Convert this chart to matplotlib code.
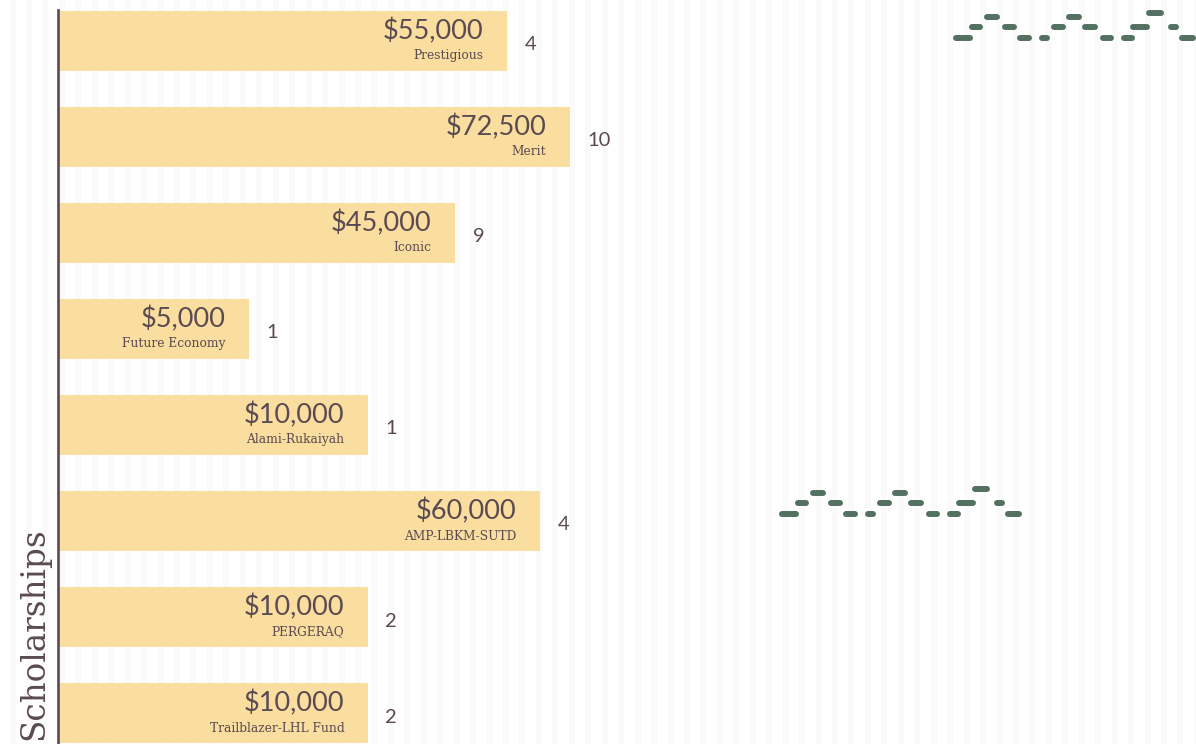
import numpy as np
import matplotlib
matplotlib.use('Agg')
import matplotlib.pyplot as plt

# ---- data ----
names = ['Prestigious', 'Merit', 'Iconic', 'Future Economy', 'Alami-Rukaiyah',
         'AMP-LBKM-SUTD', 'PERGERAQ', 'Trailblazer-LHL Fund']
amounts = [55000, 72500, 45000, 5000, 10000, 60000, 10000, 10000]
counts = [4, 10, 9, 1, 1, 4, 2, 2]
# bar extent as drawn in the original (not proportional to the amount)
bar_len = [449, 512, 397, 191, 310, 482, 310, 310]

# little zig-zag decoration: dash offsets, widths and heights
wave_dx = [0, 13, 29, 47, 62, 82, 96, 111, 127, 144, 165, 177, 192, 211, 225]
wave_w = [20, 14, 16, 15, 15, 11, 15, 16, 16, 14, 14, 20, 18, 11, 17]
wave_h = [0, 11, 21, 11, 0, 0, 11, 21, 11, 0, 0, 11, 25, 11, 0]

BAR = '#f9dea0'
INK = '#5b4a51'
GREEN = '#537061'

W, H = 1196, 744
fig = plt.figure(figsize=(W / 100, H / 100), dpi=100)

# background stripes
bg = fig.add_axes([0, 0, 1, 1], zorder=0)
bg.set_xlim(0, W)
bg.set_ylim(H, 0)
for x0 in np.arange(9.5, W, 16.45):
    bg.axvspan(x0, x0 + 6, color='#fafafa', lw=0)
bg.axis('off')

ax = fig.add_axes([57.5 / W, 0, 1 - 57.5 / W, (H - 10) / H], zorder=1)
ax.patch.set_alpha(0)
ypos = np.arange(len(names))
ax.barh(ypos, bar_len, height=0.625, color=BAR, left=0)
ax.set_xlim(0, W - 57.5)
ax.set_ylim(7.32, -0.32)

px = (H - 10) / 7.64  # pixels per band

for i in ypos:
    ax.text(bar_len[i] - 23, i - 0.1, '${:,}'.format(amounts[i]), ha='right',
            va='center', fontsize=19.5, color=INK, family='Lato')
    ax.text(bar_len[i] - 23, i + 0.155, names[i], ha='right', va='center',
            fontsize=8.8, color=INK, family='DejaVu Serif')
    ax.text(bar_len[i] + 18, i + 0.04, str(counts[i]), ha='left', va='center',
            fontsize=14.5, color=INK, family='Lato')


def wave(x0, y0):
    for dx, w, h in zip(wave_dx, wave_w, wave_h):
        xc = x0 + dx
        yc = y0 - h / px
        ax.plot([xc - w / 2 + 3, xc + w / 2 - 3], [yc, yc], color=GREEN, lw=4.3,
                solid_capstyle='round', clip_on=False)


wave(905, -0.029)
wave(731, 4.926)

for s in ['top', 'right', 'bottom']:
    ax.spines[s].set_visible(False)
ax.spines['left'].set_color(INK)
ax.spines['left'].set_linewidth(1.9)
ax.set_xticks([])
ax.set_yticks([])

fig.text(34 / W, 4 / H, 'Scholarships', rotation=90, ha='center', va='bottom',
         fontsize=23.5, color=INK, family='DejaVu Serif')

fig.savefig('out.png', dpi=100)
